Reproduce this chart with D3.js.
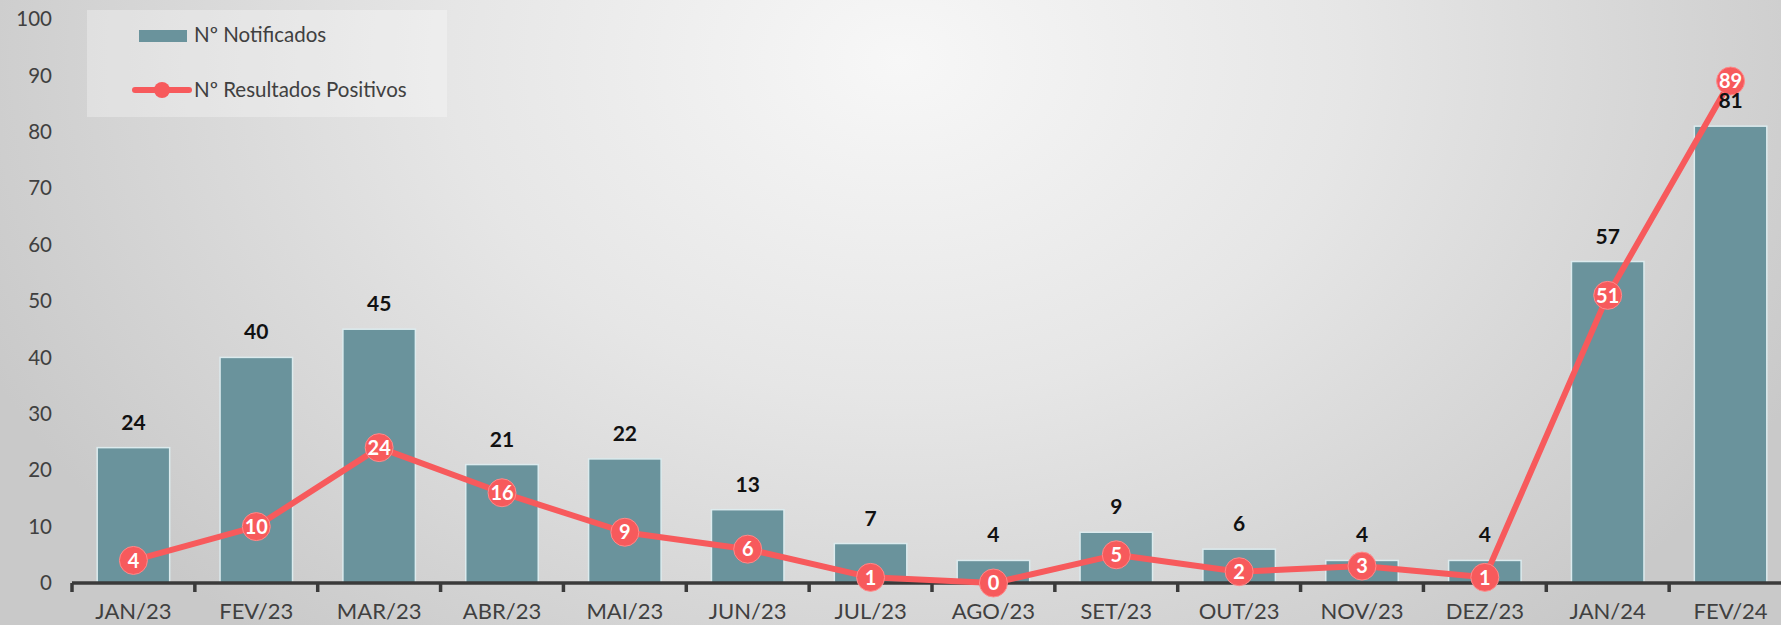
<!DOCTYPE html>
<html>
<head>
<meta charset="utf-8">
<script src="https://cdn.jsdelivr.net/npm/d3@7"></script>
<style>
  html, body { margin: 0; padding: 0; overflow: hidden; }
  svg { display: block; }
</style>
</head>
<body>
<svg id="chart" width="1781" height="625"></svg>
<script>
const categories = ["JAN/23","FEV/23","MAR/23","ABR/23","MAI/23","JUN/23","JUL/23","AGO/23","SET/23","OUT/23","NOV/23","DEZ/23","JAN/24","FEV/24"];
const notificados = [24,40,45,21,22,13,7,4,9,6,4,4,57,81];
const positivos = [4,10,24,16,9,6,1,0,5,2,3,1,51,89];
const yTicks = [0,10,20,30,40,50,60,70,80,90,100];
const seriesNames = ["Nº Notificados","Nº Resultados Positivos"];

const W = 1781, H = 625;
const barColor = "#6a939c";
const lineColor = "#f75a5c";
const font = "Lato, 'Open Sans', sans-serif";

const svg = d3.select("#chart");
const defs = svg.append("defs");
const grad = defs.append("radialGradient").attr("id","bg")
  .attr("gradientUnits","userSpaceOnUse")
  .attr("cx", 900).attr("cy", 60).attr("r", 1000)
  .attr("gradientTransform","translate(900,60) scale(1,0.75) translate(-900,-60)");
grad.append("stop").attr("offset","0%").attr("stop-color","#f7f7f7");
grad.append("stop").attr("offset","45%").attr("stop-color","#e6e6e6");
grad.append("stop").attr("offset","100%").attr("stop-color","#c9c9c9");
svg.append("rect").attr("width",W).attr("height",H).attr("fill","url(#bg)");

const x = d3.scaleBand().domain(categories).range([72, 1792]).paddingInner(0.41).paddingOuter(0.205);
const y = d3.scaleLinear().domain([0,100]).range([583, 19]);

// y labels
svg.append("g").selectAll("text").data(yTicks).join("text")
  .attr("x", 52).attr("y", d => y(d)).attr("dy","0.35em")
  .attr("text-anchor","end").attr("font-family",font).attr("font-size",20.5)
  .attr("fill","#404040").text(d => d);

// bars
svg.append("g").selectAll("rect").data(notificados).join("rect")
  .attr("x",(d,i)=>x(categories[i])).attr("width",x.bandwidth())
  .attr("y",d=>y(d)).attr("height",d=>y(0)-y(d))
  .attr("fill",barColor).attr("stroke","#dcebee").attr("stroke-width",1.5);

// x axis
const gx = svg.append("g").attr("transform",`translate(0,${y(0)})`);
gx.append("line").attr("x1",72).attr("x2",1792).attr("stroke","#3a3a3a").attr("stroke-width",3.5);
const bounds = categories.map(c => x(c) - x.step()*x.paddingInner()/2).concat([1792]);
gx.selectAll("line.tk").data(bounds).join("line").attr("class","tk")
  .attr("x1",d=>d).attr("x2",d=>d).attr("y1",0).attr("y2",9)
  .attr("stroke","#3a3a3a").attr("stroke-width",3.5);
gx.selectAll("text.lbl").data(categories).join("text").attr("class","lbl")
  .attr("x",d=>x(d)+x.bandwidth()/2).attr("y",36)
  .attr("text-anchor","middle").attr("font-family",font).attr("font-size",22)
  .attr("fill","#404040").text(d=>d);

// line
const cx = i => x(categories[i]) + x.bandwidth()/2;
const line = d3.line().x((d,i)=>cx(i)).y(d=>y(d));
svg.append("path").datum(positivos).attr("d",line).attr("fill","none")
  .attr("stroke",lineColor).attr("stroke-width",6).attr("stroke-linejoin","round");
const mk = svg.append("g").selectAll("g").data(positivos).join("g")
  .attr("transform",(d,i)=>`translate(${cx(i)},${y(d)})`);
mk.append("circle").attr("r",14).attr("fill",lineColor).attr("stroke","#ff8a8a").attr("stroke-width",1);
mk.append("text").attr("dy","0.36em").attr("text-anchor","middle")
  .attr("font-family",font).attr("font-weight","bold").attr("font-size",20)
  .attr("fill","#fff").text(d=>d);

// bar labels (drawn on top)
svg.append("g").selectAll("text").data(notificados).join("text")
  .attr("x",(d,i)=>x(categories[i])+x.bandwidth()/2).attr("y",d=>y(d)-18)
  .attr("text-anchor","middle").attr("font-family",font).attr("font-weight","bold")
  .attr("font-size",21).attr("fill","#111").text(d=>d);

// legend
const lg = svg.append("g");
lg.append("rect").attr("x",87).attr("y",10).attr("width",360).attr("height",107)
  .attr("fill","#ffffff").attr("opacity",0.3);
lg.append("rect").attr("x",139).attr("y",30).attr("width",48).attr("height",12).attr("fill",barColor);
lg.append("line").attr("x1",135).attr("x2",189).attr("y1",90).attr("y2",90)
  .attr("stroke",lineColor).attr("stroke-width",6).attr("stroke-linecap","round");
lg.append("circle").attr("cx",162).attr("cy",90).attr("r",8).attr("fill",lineColor);
lg.selectAll("text").data(seriesNames).join("text")
  .attr("x",194).attr("y",(d,i)=>i===0?35:90).attr("dy","0.35em")
  .attr("font-family",font).attr("font-size",20.5).attr("fill","#404040").text(d=>d);
</script>
</body>
</html>
